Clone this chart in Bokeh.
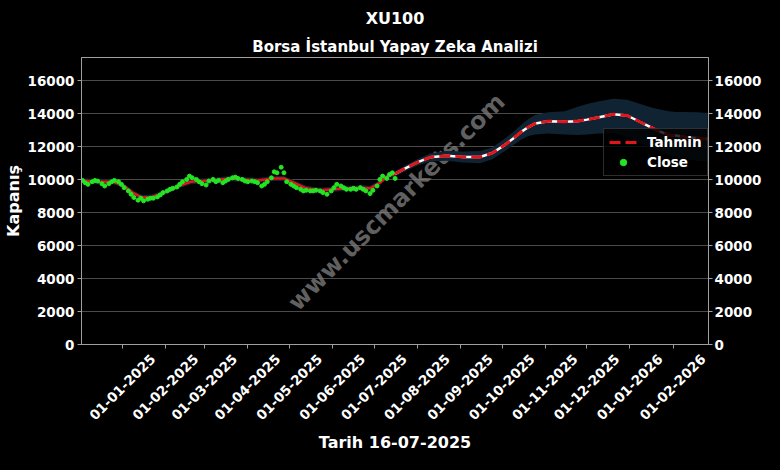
import math
import pandas as pd
from bokeh.plotting import figure
from bokeh.models import (Range1d, FixedTicker, LinearAxis, DatetimeAxis, Title, Label,
                          Legend, LegendItem, CustomLabelingPolicy)
from bokeh.embed import file_html
from bokeh.resources import INLINE

# ---------------- data ----------------
close_dates = [
    "2024-12-03", "2024-12-05", "2024-12-07", "2024-12-10", "2024-12-12", "2024-12-14",
    "2024-12-17", "2024-12-19", "2024-12-22", "2024-12-24", "2024-12-26", "2024-12-29",
    "2024-12-31", "2025-01-02", "2025-01-05", "2025-01-07", "2025-01-09", "2025-01-12",
    "2025-01-14", "2025-01-16", "2025-01-19", "2025-01-21", "2025-01-23", "2025-01-26",
    "2025-01-28", "2025-01-30", "2025-02-02", "2025-02-04", "2025-02-06", "2025-02-09",
    "2025-02-11", "2025-02-13", "2025-02-16", "2025-02-18", "2025-02-20", "2025-02-23",
    "2025-02-25", "2025-02-27", "2025-03-02", "2025-03-04", "2025-03-07", "2025-03-09",
    "2025-03-11", "2025-03-14", "2025-03-16", "2025-03-18", "2025-03-21", "2025-03-23",
    "2025-03-25",
    "2025-03-28", "2025-03-30", "2025-04-01", "2025-04-04", "2025-04-06", "2025-04-08",
    "2025-04-11", "2025-04-13", "2025-04-15", "2025-04-18", "2025-04-20", "2025-04-22",
    "2025-04-25", "2025-04-27", "2025-04-29", "2025-05-02", "2025-05-04", "2025-05-06",
    "2025-05-09", "2025-05-11", "2025-05-13", "2025-05-16", "2025-05-18", "2025-05-20",
    "2025-05-23", "2025-05-25", "2025-05-28", "2025-05-31", "2025-06-02", "2025-06-04",
    "2025-06-07", "2025-06-09", "2025-06-11", "2025-06-14", "2025-06-16", "2025-06-18",
    "2025-06-21", "2025-06-23", "2025-06-25", "2025-06-28", "2025-06-30", "2025-07-03",
    "2025-07-05", "2025-07-07", "2025-07-10", "2025-07-12", "2025-07-14", "2025-07-16",
]
close_values = [
    9960, 9820, 9720, 9880, 9960, 9920, 9760, 9620, 9760, 9880, 9960, 9880,
    9720, 9520, 9320, 9120, 8920, 8760, 8880, 8720, 8820, 8880, 8880, 8960,
    9080, 9220, 9320, 9420, 9480, 9560, 9720, 9880, 10020, 10220, 10120, 10020,
    9880, 9760, 9680, 9920, 10020, 9880, 9960, 9820, 9920, 10020, 10120, 10160,
    10080,
    10020, 9920, 9880, 9920, 9880, 9820, 9620, 9720, 9880, 10120, 10480, 10420,
    10760, 10420, 9880, 9720, 9620, 9520, 9420, 9320, 9360, 9320, 9320, 9360,
    9320, 9220, 9120, 9320, 9520, 9720, 9620, 9520, 9420, 9420, 9480, 9420,
    9520, 9420, 9320, 9160, 9360, 9620, 10020, 10220, 10080, 10320, 10420, 10080,
]

fit_dates = [
    "2024-12-03", "2024-12-13", "2024-12-25", "2025-01-01", "2025-01-08", "2025-01-15",
    "2025-01-22", "2025-01-29", "2025-02-05", "2025-02-12", "2025-02-19", "2025-02-26",
    "2025-03-05", "2025-03-12", "2025-03-19", "2025-03-28", "2025-04-08", "2025-04-20",
    "2025-04-27", "2025-05-04", "2025-05-13", "2025-05-23", "2025-06-02", "2025-06-11",
    "2025-06-21", "2025-06-28", "2025-07-05", "2025-07-10", "2025-07-16",
]
fit_values = [
    9960, 9880, 9880, 9680, 9220, 8920,
    8960, 9160, 9420, 9680, 9880, 9920,
    9960, 10020, 10080, 10020, 9960, 10080,
    10080, 9820, 9480, 9360, 9420, 9480,
    9520, 9480, 9820, 10200, 10362,
]

fc_dates = [
    "2025-07-16", "2025-07-24", "2025-08-01", "2025-08-10", "2025-08-22", "2025-09-03",
    "2025-09-15", "2025-09-24", "2025-10-03", "2025-10-09", "2025-10-15", "2025-10-20",
    "2025-10-25", "2025-11-03", "2025-11-15", "2025-11-24", "2025-12-01", "2025-12-09",
    "2025-12-20", "2025-12-30", "2026-01-08", "2026-01-14", "2026-01-20", "2026-01-29",
    "2026-02-03", "2026-02-10", "2026-02-18", "2026-02-26",
]
fc_values = [
    10362, 10722, 11050, 11363, 11460, 11381,
    11381, 11620, 12118, 12500, 12920, 13200,
    13418, 13555, 13520, 13555, 13650, 13777,
    13975, 13900, 13520, 13270, 13017, 12717,
    12680, 12580, 12540, 12480,
]

band_dates = fit_dates[:-1] + fc_dates
band_upper = [
    10110, 10030, 10030, 9830, 9370, 9070,
    9110, 9310, 9570, 9830, 10030, 10070,
    10110, 10170, 10230, 10170, 10110, 10230,
    10230, 9970, 9630, 9510, 9570, 9630,
    9670, 9630, 9970, 10350,
    10520, 10900, 11250, 11600, 11750, 11720,
    11750, 11950, 12500, 12900, 13350, 13700,
    13950, 14100, 14150, 14418, 14600, 14750,
    14915, 14850, 14617, 14450, 14316, 14150,
    14117, 14117, 14100, 14050,
]
band_lower = [
    9810, 9730, 9730, 9530, 9070, 8770,
    8810, 9010, 9270, 9530, 9730, 9770,
    9810, 9870, 9930, 9870, 9810, 9930,
    9930, 9670, 9330, 9210, 9270, 9330,
    9370, 9330, 9670, 10050,
    10200, 10550, 10850, 11100, 11150, 11050,
    11000, 11250, 11750, 12100, 12450, 12650,
    12750, 12800, 12750, 12717, 12750, 12800,
    12817, 12600, 12218, 12000, 11817, 11500,
    11350, 11250, 11150, 11100,
]

tick_dates = ["2025-01-01", "2025-02-01", "2025-03-01", "2025-04-01", "2025-05-01",
              "2025-06-01", "2025-07-01", "2025-08-01", "2025-09-01", "2025-10-01",
              "2025-11-01", "2025-12-01", "2026-01-01", "2026-02-01"]
tick_labels = ["01-01-2025", "01-02-2025", "01-03-2025", "01-04-2025", "01-05-2025",
               "01-06-2025", "01-07-2025", "01-08-2025", "01-09-2025", "01-10-2025",
               "01-11-2025", "01-12-2025", "01-01-2026", "01-02-2026"]
y_ticks = [0, 2000, 4000, 6000, 8000, 10000, 12000, 14000, 16000]

title_text = "XU100"
subtitle_text = "Borsa İstanbul Yapay Zeka Analizi"
x_label = "Tarih 16-07-2025"
y_label = "Kapanış"
watermark = "www.uscmarkets.com"

# ---------------- helpers ----------------
def ms(d):
    return pd.Timestamp(d).value / 1e6

DAY = 86400000.0
LABEL_SHIFT = 21.6 * DAY   # rotated labels are centred on their tick (matplotlib style)

FONT = "DejaVu Sans"
RED = "#e3151b"
GREEN = "#22e622"
AXC = "#a0a0a0"

p = figure(width=764, height=454, x_axis_type="datetime",
           output_backend="svg", toolbar_location=None,
           x_range=Range1d(ms("2024-12-02 08:00"), ms("2026-02-26 12:00")),
           y_range=Range1d(0, 17420),
           min_border_left=73, min_border_right=0,
           min_border_top=50, min_border_bottom=0,
           background_fill_color="black", border_fill_color="black",
           outline_line_color=AXC)

# titles (p.title is the outer one, the added Title sits next to the frame)
p.title.text = title_text
p.title.align = "center"
p.title.text_color = "white"
p.title.text_font = FONT
p.title.text_font_size = "16px"
p.title.text_font_style = "bold"
p.title.standoff = 13
p.add_layout(Title(text=subtitle_text, align="center", text_color="white",
                   text_font=FONT, text_font_size="15px", text_font_style="bold",
                   standoff=3),
             "above")

# watermark
p.add_layout(Label(x=ms("2025-07-17"), y=8650, text=watermark, angle=math.pi / 4,
                   text_align="center", text_baseline="middle",
                   text_font=FONT, text_font_size="24px", text_font_style="bold",
                   text_color="#808080", text_alpha=0.75, level="underlay"))

# band
p.varea(x=[ms(d) for d in band_dates], y1=band_lower, y2=band_upper,
        fill_color="#0f2333", fill_alpha=1.0)

# fitted history line
p.line([ms(d) for d in fit_dates], fit_values, line_color=RED, line_width=2.5)
# forecast
fx = [ms(d) for d in fc_dates]
p.line(fx, fc_values, line_color="white", line_width=2.5)
r_t = p.line(fx, fc_values, line_color=RED, line_width=3, line_dash="11 5")
# close
r_c = p.scatter([ms(d) for d in close_dates], close_values, size=4,
                fill_color=GREEN, line_color=GREEN)

# axes
xa = p.xaxis[0]
xa.ticker = FixedTicker(ticks=[ms(d) for d in tick_dates])
xa.major_label_policy = CustomLabelingPolicy(code="return new Set()")
xa.major_label_standoff = 0

xb = DatetimeAxis(ticker=FixedTicker(ticks=[ms(d) + LABEL_SHIFT for d in tick_dates]))
xb.major_label_overrides = {ms(d) + LABEL_SHIFT: l for d, l in zip(tick_dates, tick_labels)}
xb.major_label_orientation = math.pi / 4
xb.axis_label = x_label
p.add_layout(xb, "below")

ya = p.yaxis[0]
ya.ticker = FixedTicker(ticks=y_ticks)
ya.axis_label = y_label

ra = LinearAxis(ticker=FixedTicker(ticks=y_ticks))
p.add_layout(ra, "right")

for ax in (xa, xb, ya, ra):
    ax.axis_line_color = AXC
    ax.major_tick_line_color = AXC
    ax.minor_tick_line_color = None
    ax.major_tick_out = 4
    ax.major_tick_in = 0
    ax.major_label_text_color = "white"
    ax.major_label_text_font = FONT
    ax.major_label_text_font_style = "bold"
    ax.major_label_text_font_size = "13.5px"
    ax.axis_label_text_color = "white"
    ax.axis_label_text_font = FONT
    ax.axis_label_text_font_size = "16px"
    ax.axis_label_text_font_style = "bold"
    ax.axis_label_standoff = 2
xa.major_label_text_font_size = "0px"
ya.major_label_standoff = 3
ra.major_label_standoff = 2
xb.axis_line_color = None
xb.major_tick_line_color = None
xb.major_tick_out = 0
xb.major_label_standoff = 8
xb.axis_label_standoff = 5

p.xgrid.grid_line_color = None
p.ygrid.ticker = FixedTicker(ticks=y_ticks)
p.ygrid.grid_line_color = "#4a4a4a"
p.ygrid.grid_line_width = 1

legend = Legend(items=[LegendItem(label="Tahmin", renderers=[r_t]),
                       LegendItem(label="Close", renderers=[r_c])],
                location=(522, 168))
legend.label_text_color = "white"
legend.label_text_font = FONT
legend.label_text_font_size = "13.5px"
legend.label_text_font_style = "bold"
legend.background_fill_color = "black"
legend.background_fill_alpha = 0.8
legend.border_line_color = "#5a5a5a"
legend.border_line_width = 1
legend.padding = 5
legend.spacing = 4
legend.margin = 0
legend.glyph_width = 28
legend.glyph_height = 16
legend.label_standoff = 10
p.add_layout(legend, "center")

html = file_html(p, INLINE)
html = html.replace("<head>", "<head><style>html,body{background:#000;}</style>", 1)
open("out.html", "w").write(html)
